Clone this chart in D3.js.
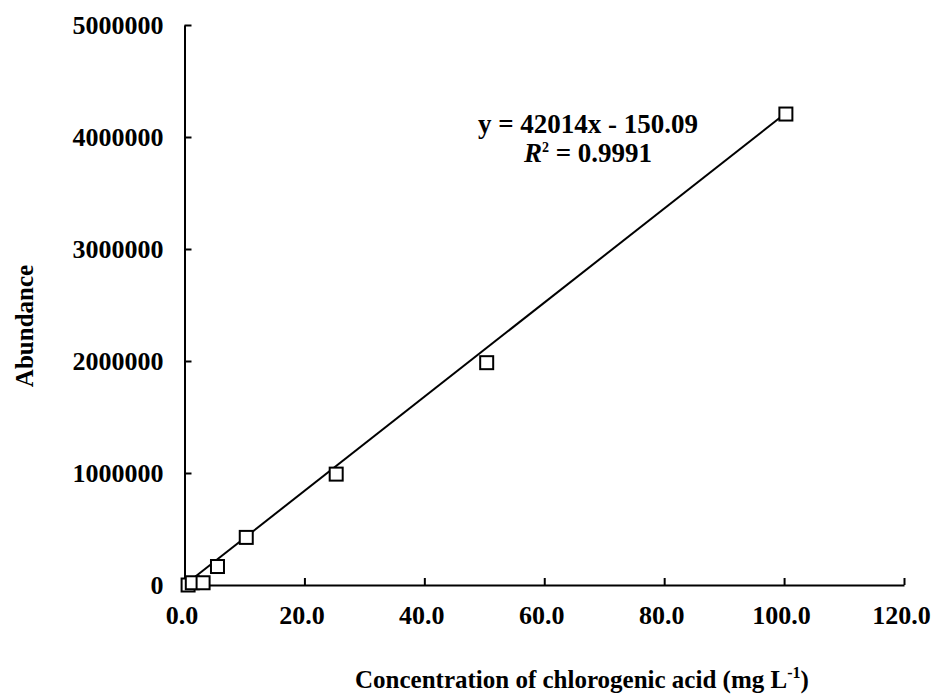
<!DOCTYPE html>
<html>
<head>
<meta charset="utf-8">
<script src="https://cdn.jsdelivr.net/npm/d3@7"></script>
<style>
  html, body { margin: 0; padding: 0; background: #fff; }
  svg { display: block; }
  text { font-family: "Liberation Serif", "Times New Roman", serif; font-weight: bold; fill: #000; }
</style>
</head>
<body>
<svg id="chart" width="935" height="697"></svg>
<script>
// ---- data ----
const concentration = [0.6, 1.3, 3.1, 5.5, 10.3, 25.3, 50.4, 100.3];
const abundance = [0, 20000, 20000, 165000, 425000, 990000, 1985000, 4205000];
const xTicks = [0, 20, 40, 60, 80, 100, 120];
const yTicks = [0, 1000000, 2000000, 3000000, 4000000, 5000000];
const slope = 42014;
const intercept = -150.09;
const rSquared = 0.9991;
const xTitle = "Concentration of chlorogenic acid (mg L";
const yTitle = "Abundance";

// ---- chart ----
const svg = d3.select("#chart");
const x = d3.scaleLinear().domain([0, 120]).range([184.5, 904]);
const y = d3.scaleLinear().domain([0, 5000000]).range([585, 25]);

const xAxis = d3.axisBottom(x).tickValues(xTicks).tickFormat(d3.format(".1f"))
  .tickSizeInner(-7).tickSizeOuter(0).tickPadding(21);
const yAxis = d3.axisLeft(y).tickValues(yTicks).tickFormat(d => String(d))
  .tickSizeInner(-7).tickSizeOuter(0).tickPadding(21);

const gx = svg.append("g").attr("transform", `translate(0,${y(0)})`).call(xAxis);
const gy = svg.append("g").attr("transform", `translate(${x(0)},0)`).call(yAxis);
[gx, gy].forEach(g => {
  g.selectAll(".domain").attr("stroke", "#000").attr("stroke-width", 2);
  g.selectAll(".tick line").attr("stroke", "#000").attr("stroke-width", 2);
  g.selectAll(".tick text").attr("font-family", "Liberation Serif").attr("font-weight", "bold")
    .attr("font-size", 26).attr("fill", "#000");
});
gy.selectAll(".tick text").attr("dy", "0.34em");
gx.selectAll(".tick text").attr("dx", -3);

// trendline
const x0 = d3.min(concentration), x1 = d3.max(concentration);
svg.append("line")
  .attr("x1", x(x0)).attr("y1", y(slope * x0 + intercept))
  .attr("x2", x(x1)).attr("y2", y(slope * x1 + intercept))
  .attr("stroke", "#000").attr("stroke-width", 2);

// markers
const s = 13;
svg.selectAll("rect.pt").data(concentration.map((c, i) => [c, abundance[i]])).join("rect")
  .attr("class", "pt")
  .attr("x", d => x(d[0]) - s / 2).attr("y", d => y(d[1]) - s / 2)
  .attr("width", s).attr("height", s)
  .attr("fill", "#fff").attr("stroke", "#000").attr("stroke-width", 2);

// equation
svg.append("text").attr("x", 588).attr("y", 133).attr("text-anchor", "middle").attr("font-size", 27)
  .text(`y = ${slope}x - ${Math.abs(intercept).toFixed(2)}`);
const r2 = svg.append("text").attr("x", 588).attr("y", 162).attr("text-anchor", "middle").attr("font-size", 27);
r2.append("tspan").attr("font-style", "italic").text("R");
r2.append("tspan").attr("font-size", 14).attr("dy", -10).text("2");
r2.append("tspan").attr("dy", 10).text(` = ${rSquared}`);

// axis titles
const xt = svg.append("text").attr("x", 355).attr("y", 688).attr("font-size", 25);
xt.append("tspan").text(xTitle);
xt.append("tspan").attr("font-size", 16).attr("dy", -10).text("-1");
xt.append("tspan").attr("dy", 10).text(")");

svg.append("text").attr("transform", "translate(33,326) rotate(-90)")
  .attr("text-anchor", "middle").attr("font-size", 25).text(yTitle);
</script>
</body>
</html>
